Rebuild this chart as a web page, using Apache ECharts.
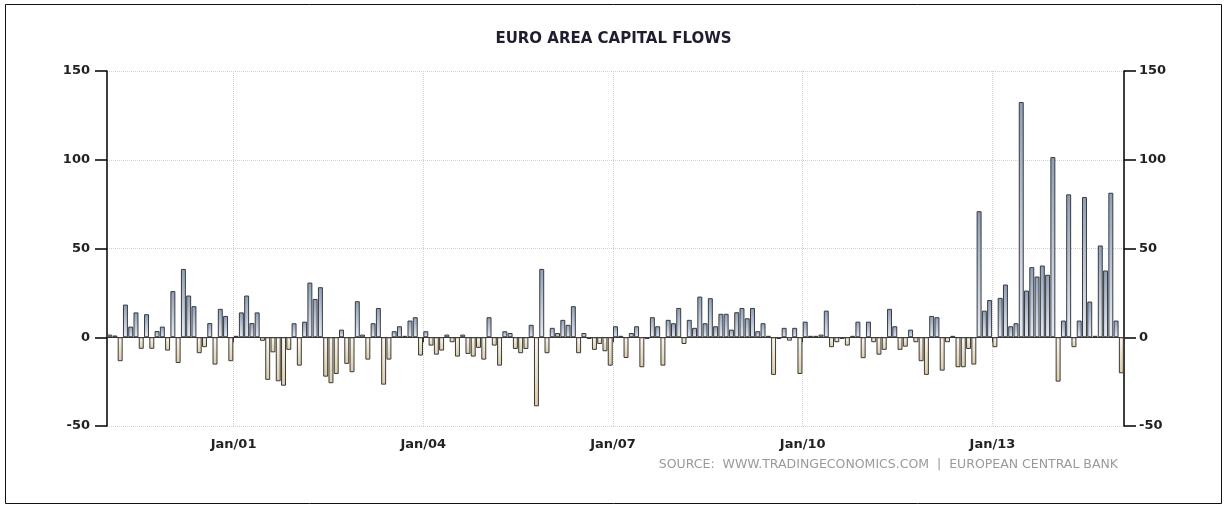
<!DOCTYPE html>
<html>
<head>
<meta charset="utf-8">
<title>Euro Area Capital Flows</title>
<script src="https://cdn.jsdelivr.net/npm/echarts@6/dist/echarts.min.js"></script>
<style>
  html, body { margin: 0; padding: 0; background: #fff; }
  #chart { width: 1227px; height: 509px; }
</style>
</head>
<body>
<div id="chart"></div>
<script>
// monthly capital flows (EUR bn), Jan/99 .. Jan/15
const monthNames = ['Jan', 'Feb', 'Mar', 'Apr', 'May', 'Jun', 'Jul', 'Aug', 'Sep', 'Oct', 'Nov', 'Dec'];
const firstYear = 1999;

const flows1999to2001 = [
  1.5, 1, -13.5, 18.4, 6, 14, -6.5, 13, -6.5, 3.5, 6, -7.5,
  26, -14.5, 38.5, 23.5, 17.5, -9, -5.6, 8, -15.4, 16, 12, -13.5,
  0.8, 14, 23.5, 8, 14, -2, -24, -8.5, -24.8, -27.3, -7.1, 7.9
];
const flows2002to2004 = [
  -16, 8.8, 30.8, 21.6, 28.2, -22.2, -25.9, -20.7, 4.3, -15, -19.7, 20.3,
  1.5, -12.6, 7.9, 16.5, -26.7, -12.6, 3.4, 6.2, 0.8, 9.4, 11.3, -10.3,
  3.4, -4.7, -9.8, -7.5, 1.5, -2.8, -10.9, 1.5, -9.4, -10.9, -6, -12.6
];
const flows2005to2007 = [
  11.3, -4.7, -16, 3.4, 2.4, -6.6, -9, -6.6, 7, -38.9, 38.5, -9,
  5.3, 2.4, 9.8, 7, 17.5, -9, 2.4, -1, -7.1, -3.8, -7.9, -16,
  6.2, 0.8, -11.7, 2.4, 6.2, -16.9, -1, 11.3, 6.2, -16, 9.8, 7.9
];
const flows2008to2010 = [
  16.5, -3.8, 9.8, 5.3, 22.9, 7.9, 22, 6.2, 13.2, 13.2, 4.3, 14.1,
  16.5, 10.7, 16.5, 3.4, 7.9, 0.8, -21.2, -1, 5.3, -1.9, 5.3, -20.7,
  8.8, 0.8, 0.8, 1.5, 15, -5.6, -2.8, -1, -4.7, 0.8, 8.8, -11.8
];
const flows2011to2013 = [
  8.8, -2.8, -9.8, -7.1, 16, 6.2, -7.1, -5.3, 4.3, -2.8, -13.5, -21.2,
  12, 11.3, -18.8, -2.8, 0.8, -16.9, -16.9, -6.6, -15.4, 71, 15, 21,
  -5.6, 22.2, 29.7, 6.2, 7.9, 132.5, 26.3, 39.5, 34.2, 40.4, 35.2, 101.5
];
const flows2014to2015 = [
  -25, 9.4, 80.5, -5.6, 9.4, 79, 20.1, 0.8, 51.7, 37.6, 81.4, 9.4,
  -20.3
];

const flows = [].concat(flows1999to2001, flows2002to2004, flows2005to2007,
  flows2008to2010, flows2011to2013, flows2014to2015);

// labels like "Jan/01"
const months = flows.map(function (v, i) {
  const yy = String((firstYear + Math.floor(i / 12)) % 100).padStart(2, '0');
  return monthNames[i % 12] + '/' + yy;
});

const yTicks = { min: -50, max: 150, step: 50 };

// every third January, starting Jan/01
function isMarked(i) {
  return i % 36 === 24;
}

const posFill = new echarts.graphic.LinearGradient(0, 0, 0, 1, [
  { offset: 0, color: '#8d9fbb' },
  { offset: 1, color: '#e3ebf7' }
]);
const negFill = new echarts.graphic.LinearGradient(0, 0, 0, 1, [
  { offset: 0, color: '#fdf8ec' },
  { offset: 1, color: '#dccca8' }
]);

const myChart = echarts.init(document.getElementById('chart'));
myChart.setOption({
  animation: false,
  backgroundColor: '#fff',
  title: [
    {
      text: 'EURO AREA CAPITAL FLOWS',
      left: 'center',
      top: 27,
      textStyle: { fontFamily: 'DejaVu Sans', fontWeight: 'bold', fontSize: 15, color: '#1e1e2e' }
    },
    {
      text: 'SOURCE:  WWW.TRADINGECONOMICS.COM  |  EUROPEAN CENTRAL BANK',
      right: 104,
      top: 453,
      textStyle: { fontFamily: 'DejaVu Sans', fontWeight: 'normal', fontSize: 12.5, color: '#9a9a9a' }
    }
  ],
  graphic: [
    {
      type: 'rect',
      shape: { x: 5.5, y: 4.5, width: 1216, height: 499 },
      style: { fill: 'none', stroke: '#111', lineWidth: 1 },
      silent: true
    }
  ],
  grid: { left: 107, right: 103, top: 71, bottom: 83, containLabel: false },
  xAxis: {
    type: 'category',
    data: months,
    boundaryGap: true,
    axisLine: { lineStyle: { color: '#333', width: 1 } },
    axisTick: { show: true, length: 5, interval: isMarked, lineStyle: { color: '#333' } },
    axisLabel: {
      interval: isMarked,
      margin: 12,
      padding: [0, 5, 0, 0],
      fontFamily: 'DejaVu Sans',
      fontWeight: 'bold',
      fontSize: 13,
      color: '#222'
    },
    splitLine: {
      show: true,
      interval: isMarked,
      lineStyle: { color: '#d2d2d2', type: 'dotted', width: 1 }
    }
  },
  yAxis: [
    {
      type: 'value',
      position: 'left',
      min: yTicks.min,
      max: yTicks.max,
      interval: yTicks.step,
      axisLine: { show: true, lineStyle: { color: '#000', width: 1.5 } },
      axisTick: { show: true, length: 12, lineStyle: { color: '#000', width: 1.5 } },
      axisLabel: { margin: 17, fontFamily: 'DejaVu Sans', fontWeight: 'bold', fontSize: 13, color: '#222' },
      splitLine: { show: true, lineStyle: { color: '#d2d2d2', type: 'dotted', width: 1 } }
    },
    {
      type: 'value',
      position: 'right',
      min: yTicks.min,
      max: yTicks.max,
      interval: yTicks.step,
      axisLine: { show: true, lineStyle: { color: '#000', width: 1.5 } },
      axisTick: { show: true, length: 12, lineStyle: { color: '#000', width: 1.5 } },
      axisLabel: { margin: 15, fontFamily: 'DejaVu Sans', fontWeight: 'bold', fontSize: 13, color: '#222' },
      splitLine: { show: false }
    }
  ],
  series: [
    {
      name: 'Capital flows',
      type: 'bar',
      barCategoryGap: '6%',
      data: flows.map(function (v) {
        return {
          value: v,
          itemStyle: { color: v >= 0 ? posFill : negFill }
        };
      }),
      itemStyle: { borderColor: '#3a3a3a', borderWidth: 1 }
    }
  ]
});
</script>
</body>
</html>
